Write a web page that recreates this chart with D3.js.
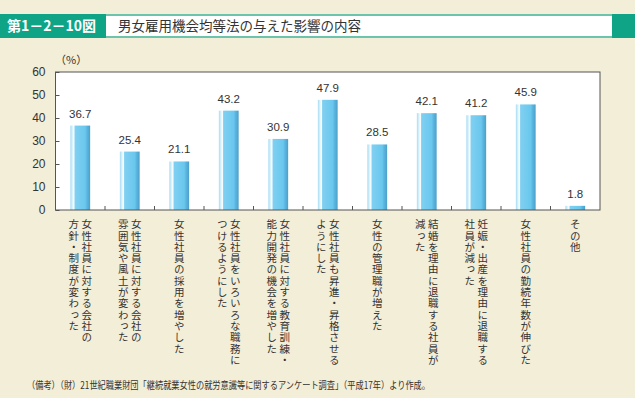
<!DOCTYPE html>
<html>
<head>
<meta charset="utf-8">
<script src="https://cdn.jsdelivr.net/npm/d3@7"></script>
<style>
  html, body { margin: 0; padding: 0; background: #f3eed7; }
  svg { display: block; }
</style>
</head>
<body>
<div id="chart"></div>
<script>
// data
const values = [36.7, 25.4, 21.1, 43.2, 30.9, 47.9, 28.5, 42.1, 41.2, 45.9, 1.8];
const labels = [
    ["女性社員に対する会社の", "方針・制度が変わった"],
    ["女性社員に対する会社の", "雰囲気や風土が変わった"],
    ["女性社員の採用を増やした"],
    ["女性社員をいろいろな職務に", "つけるようにした"],
    ["女性社員に対する教育訓練・", "能力開発の機会を増やした"],
    ["女性社員も昇進・昇格させる", "ようにした"],
    ["女性の管理職が増えた"],
    ["結婚を理由に退職する社員が", "減った"],
    ["妊娠・出産を理由に退職する", "社員が減った"],
    ["女性社員の勤続年数が伸びた"],
    ["その他"]
];
const yTicks = [0, 10, 20, 30, 40, 50, 60];
const figNo = "第1－2－10図";
const title = "男女雇用機会均等法の与えた影響の内容";
const note = "（備考）（財）21世紀職業財団「継続就業女性の就労意識等に関するアンケート調査」（平成17年）より作成。";

const W = 635, H = 398;
const margin = {top: 72, right: 35, bottom: 188, left: 55.5},
    width = 600 - margin.left,
    height = 210 - margin.top;

const svg = d3.select("#chart")
    .append("svg")
    .attr("width", W).attr("height", H);

svg.append("rect").attr("width", W).attr("height", H).attr("fill", "#f3eed7");

// header
svg.append("rect").attr("x", 106).attr("y", 15).attr("width", 507).attr("height", 22)
    .attr("fill", "#fff");
svg.append("rect").attr("x", 106).attr("y", 14).attr("width", 507).attr("height", 2).attr("fill", "#6cc4ac");
svg.append("rect").attr("x", 106).attr("y", 36).attr("width", 507).attr("height", 2).attr("fill", "#6cc4ac");
svg.append("rect").attr("x", 0).attr("y", 14).attr("width", 106).attr("height", 24).attr("fill", "#10a487");
svg.append("rect").attr("x", 612).attr("y", 14).attr("width", 23).attr("height", 24).attr("fill", "#10a487");
svg.append("text")
    .attr("x", 7).attr("y", 31)
    .attr("fill", "#fff")
    .style("font-family", "'Noto Sans CJK JP'")
    .style("font-weight", "bold")
    .style("font-size", "14px")
    .text(figNo);
svg.append("text")
    .attr("x", 118).attr("y", 31)
    .attr("fill", "#333")
    .style("font-family", "'Noto Sans CJK JP'")
    .style("font-size", "13.5px")
    .text(title);

// gradient for bars
const grad = svg.append("defs").append("linearGradient")
    .attr("id", "barGrad").attr("x1", "0").attr("x2", "1").attr("y1", "0").attr("y2", "0");
[["0%", "#a6dcf2"], ["10%", "#d6f1fb"], ["18%", "#ffffff"], ["24%", "#7fd0f1"],
 ["75%", "#6ac7ee"], ["84%", "#5bb6df"], ["100%", "#4c9fc8"]].forEach(s => {
    grad.append("stop").attr("offset", s[0]).attr("stop-color", s[1]);
});

const g = svg.append("g")
    .attr("transform", `translate(${margin.left},${margin.top})`);

g.append("rect").attr("width", width).attr("height", height).attr("fill", "#fff");

const x = d3.scaleBand()
    .range([0, width])
    .domain(d3.range(values.length))
    .paddingInner(0.6)
    .paddingOuter(0.3);
const step = x.step();

const y = d3.scaleLinear()
    .domain([0, 60])
    .range([height, 0]);

// y axis
const yAxis = g.append("g")
    .call(d3.axisLeft(y).tickValues(yTicks).tickSize(-4).tickPadding(10));
yAxis.select(".domain").remove();
yAxis.selectAll("line").attr("stroke", "#555");
yAxis.selectAll("text")
    .style("font-family", "'Liberation Sans', Arial, sans-serif")
    .style("font-size", "12px")
    .attr("fill", "#333");

// bottom ticks between categories
g.selectAll(".xtick")
    .data(d3.range(1, values.length))
    .join("line")
    .attr("x1", d => d * step).attr("x2", d => d * step)
    .attr("y1", height).attr("y2", height - 4)
    .attr("stroke", "#555");

// bars
g.selectAll(".bar")
    .data(values)
    .join("rect")
    .attr("x", (d, i) => x(i))
    .attr("y", d => y(d))
    .attr("width", x.bandwidth())
    .attr("height", d => height - y(d))
    .attr("fill", "url(#barGrad)");

g.selectAll(".val")
    .data(values)
    .join("text")
    .attr("x", (d, i) => x(i) + x.bandwidth() / 2)
    .attr("y", d => y(d) - 8)
    .attr("text-anchor", "middle")
    .style("font-family", "'Liberation Sans', Arial, sans-serif")
    .style("font-size", "11.5px")
    .attr("fill", "#333")
    .text(d => d.toFixed(1));

// frame
g.append("rect").attr("width", width).attr("height", height)
    .attr("fill", "none").attr("stroke", "#555").attr("stroke-width", 1);

// category labels (vertical)
labels.forEach((lines, i) => {
    const cx = x(i) + x.bandwidth() / 2;
    const n = lines.length;
    lines.forEach((line, j) => {
        const off = (n - 1) / 2 * 13 - j * 13;
        g.append("text")
            .attr("x", cx + off)
            .attr("y", height + 9)
            .style("writing-mode", "vertical-rl")
            .style("font-family", "'Noto Sans CJK JP'")
            .style("font-size", "10.5px")
            .style("letter-spacing", "0.8px")
            .attr("fill", "#333")
            .text(line);
    });
});

// unit
svg.append("text")
    .attr("x", 55).attr("y", 64)
    .style("font-family", "'Noto Sans CJK JP'")
    .style("font-size", "11px")
    .attr("fill", "#333")
    .text("（%）");

// note
svg.append("text")
    .attr("x", 27).attr("y", 389)
    .attr("textLength", 403)
    .attr("lengthAdjust", "spacingAndGlyphs")
    .style("font-family", "'Noto Sans CJK JP'")
    .style("font-size", "10px")
    .attr("fill", "#333")
    .text(note);
</script>
</body>
</html>
